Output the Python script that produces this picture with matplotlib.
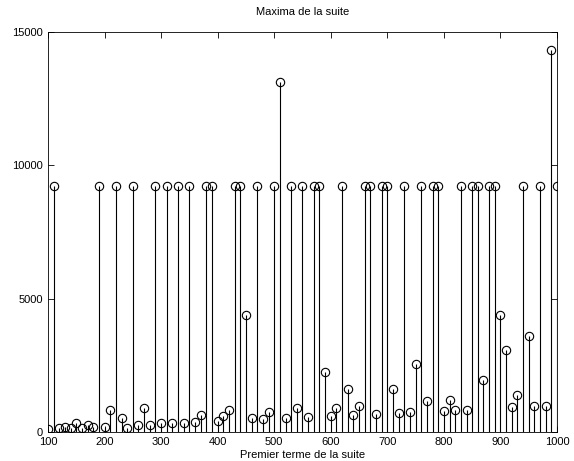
import matplotlib
matplotlib.use("Agg")
import matplotlib.pyplot as plt
import numpy as np

# premier terme de la suite (100, 110, ..., 1000)
premier_terme = np.arange(100, 1001, 10)

# maximum atteint par la suite pour chaque premier terme
maxima = [
    100, 9232, 160, 196, 160, 340, 160, 256, 180, 9232,
    200, 808, 9232, 520, 160, 9232, 260, 916, 280, 9232,
    340, 9232, 320, 9232, 340, 9232, 360, 628, 9232, 9232,
    400, 616, 808, 9232, 9232, 4372, 520, 9232, 480, 736,
    9232, 13120, 520, 9232, 916, 9232, 560, 9232, 9232, 2248,
    600, 916, 9232, 1600, 640, 976, 9232, 9232, 680, 9232,
    9232, 1600, 720, 9232, 740, 2536, 9232, 1156, 9232, 9232,
    800, 1216, 820, 9232, 840, 9232, 9232, 1960, 9232, 9232,
    4372, 3076, 920, 1396, 9232, 3616, 960, 9232, 980, 14308,
    9232,
]

x_ticks = list(range(100, 1001, 100))
y_ticks = [0, 5000, 10000, 15000]

plt.rcParams['font.family'] = ['Liberation Sans', 'DejaVu Sans']
plt.rcParams['font.size'] = 8

fig = plt.figure(figsize=(5.74, 4.61), dpi=100)
ax = fig.add_axes([0.0836, 0.0629, 0.8868, 0.8677])

markerline, stemlines, baseline = ax.stem(premier_terme, maxima, linefmt='k-',
                                          markerfmt='ko', basefmt=' ')
markerline.set_markerfacecolor('none')
markerline.set_markeredgewidth(0.8)
markerline.set_markersize(6)
stemlines.set_linewidth(0.8)

ax.set_xlim(100, 1000)
ax.set_ylim(0, 15000)
ax.set_xticks(x_ticks)
ax.set_yticks(y_ticks)
ax.tick_params(direction='in', top=True, right=True, length=4, width=0.6, labelsize=8)
for s in ax.spines.values():
    s.set_linewidth(0.6)

ax.set_title("Maxima de la suite", fontsize=8, pad=12)
ax.set_xlabel("Premier terme de la suite", fontsize=8, labelpad=2)

fig.savefig("out.png", dpi=100)
